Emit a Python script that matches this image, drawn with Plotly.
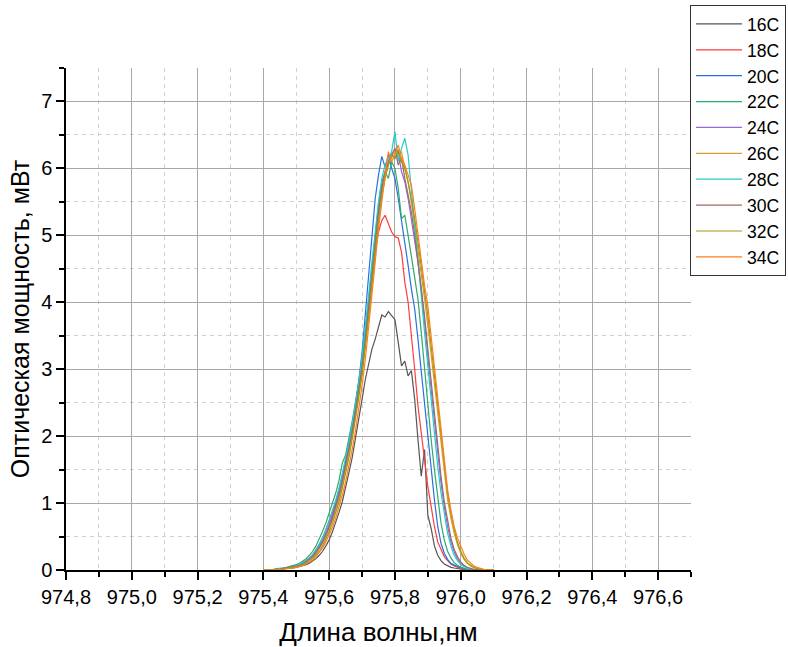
import plotly.graph_objects as go

# Wavelength sampling grid (nm): 975.40 ... 976.10, step 0.01
WL_START = 975.40
WL_STEP = 0.01
N_POINTS = 71
wavelength = [round(WL_START + WL_STEP * i, 2) for i in range(N_POINTS)]

temperatures = ["16C", "18C", "20C", "22C", "24C", "26C", "28C", "30C", "32C", "34C"]

# Optical power, mW (one list per temperature)
p16 = [0, 0, 0, 0.01, 0.01, 0.01, 0.02, 0.02, 0.03, 0.03,
       0.04, 0.05, 0.06, 0.08, 0.10, 0.13, 0.17, 0.22, 0.28, 0.36,
       0.45, 0.57, 0.70, 0.86, 1.02, 1.22, 1.45, 1.68, 1.95, 2.25,
       2.55, 2.85, 3.10, 3.30, 3.45, 3.64, 3.81, 3.78, 3.86, 3.80,
       3.74, 3.40, 3.05, 3.12, 2.90, 2.98, 2.55, 1.95, 1.40, 1.80,
       0.82, 0.62, 0.36, 0.22, 0.14, 0.09, 0.06, 0.04, 0.03, 0.02,
       0.01, 0.01, 0, 0, 0, 0, 0, 0, 0, 0,
       0]
p18 = [0, 0, 0, 0.01, 0.01, 0.01, 0.02, 0.03, 0.04, 0.05,
       0.06, 0.08, 0.11, 0.14, 0.18, 0.23, 0.30, 0.38, 0.48, 0.60,
       0.72, 0.86, 1.02, 1.20, 1.40, 1.62, 1.86, 2.12, 2.40, 2.72,
       3.05, 3.45, 3.90, 4.35, 4.75, 5.05, 5.22, 5.30, 5.18, 5.05,
       4.98, 4.96, 4.75, 4.30, 4.00, 3.55, 3.00, 2.45, 2.05, 1.65,
       1.25, 0.95, 0.65, 0.42, 0.30, 0.20, 0.14, 0.09, 0.06, 0.04,
       0.02, 0.01, 0, 0, 0, 0, 0, 0, 0, 0,
       0]
p20 = [0, 0, 0, 0.01, 0.01, 0.02, 0.02, 0.03, 0.04, 0.05,
       0.07, 0.09, 0.11, 0.14, 0.17, 0.21, 0.27, 0.34, 0.42, 0.52,
       0.64, 0.80, 0.98, 1.16, 1.38, 1.60, 1.86, 2.15, 2.48, 2.82,
       3.25, 3.80, 4.35, 5.00, 5.55, 5.90, 6.18, 6.02, 6.20, 6.00,
       5.85, 5.55, 5.22, 4.95, 4.55, 4.20, 3.90, 3.45, 2.95, 2.50,
       2.00, 1.55, 1.05, 0.65, 0.40, 0.25, 0.16, 0.10, 0.07, 0.05,
       0.04, 0.02, 0.01, 0, 0, 0, 0, 0, 0, 0,
       0]
p22 = [0, 0, 0.01, 0.01, 0.02, 0.02, 0.03, 0.04, 0.05, 0.06,
       0.08, 0.10, 0.13, 0.17, 0.22, 0.28, 0.36, 0.46, 0.58, 0.70,
       0.84, 0.98, 1.15, 1.34, 1.60, 1.72, 1.96, 2.22, 2.50, 2.80,
       3.15, 3.55, 4.05, 4.55, 5.05, 5.45, 5.78, 5.95, 5.85, 6.10,
       6.00, 5.70, 5.25, 5.30, 5.00, 4.70, 4.38, 4.05, 3.55, 3.00,
       2.45, 1.95, 1.50, 1.05, 0.70, 0.45, 0.28, 0.18, 0.11, 0.07,
       0.04, 0.02, 0.01, 0, 0, 0, 0, 0, 0, 0,
       0]
p24 = [0, 0, 0, 0.01, 0.01, 0.02, 0.02, 0.03, 0.04, 0.05,
       0.06, 0.08, 0.10, 0.13, 0.17, 0.22, 0.28, 0.36, 0.45, 0.56,
       0.68, 0.82, 0.98, 1.16, 1.36, 1.58, 1.82, 2.08, 2.36, 2.66,
       3.00, 3.40, 3.85, 4.35, 4.85, 5.30, 5.65, 5.90, 6.05, 6.22,
       6.15, 6.25, 5.95, 5.80, 5.55, 5.25, 4.95, 4.60, 4.20, 3.75,
       3.20, 2.70, 2.20, 1.70, 1.30, 0.95, 0.65, 0.42, 0.27, 0.17,
       0.10, 0.06, 0.03, 0.01, 0, 0, 0, 0, 0, 0,
       0]
p26 = [0, 0, 0, 0, 0.01, 0.01, 0.02, 0.02, 0.03, 0.04,
       0.05, 0.07, 0.09, 0.12, 0.15, 0.19, 0.25, 0.32, 0.40, 0.50,
       0.62, 0.75, 0.90, 1.08, 1.28, 1.50, 1.74, 2.00, 2.30, 2.62,
       2.95, 3.35, 3.80, 4.30, 4.80, 5.25, 5.60, 5.85, 6.10, 6.15,
       6.30, 6.20, 6.25, 6.00, 5.80, 5.50, 5.15, 4.80, 4.40, 4.05,
       3.65, 3.20, 2.75, 2.35, 1.85, 1.40, 1.05, 0.78, 0.55, 0.38,
       0.25, 0.16, 0.10, 0.06, 0.03, 0.02, 0.01, 0, 0, 0,
       0]
p28 = [0, 0, 0, 0.01, 0.01, 0.02, 0.02, 0.03, 0.04, 0.05,
       0.07, 0.09, 0.11, 0.14, 0.18, 0.23, 0.30, 0.38, 0.48, 0.60,
       0.74, 0.88, 1.04, 1.22, 1.44, 1.66, 1.90, 2.18, 2.48, 2.80,
       3.18, 3.60, 4.10, 4.60, 5.10, 5.50, 5.85, 6.05, 6.15, 6.25,
       6.55, 6.10, 6.30, 6.45, 6.20, 5.70, 5.20, 4.65, 4.10, 3.55,
       3.05, 2.50, 2.00, 1.55, 1.15, 0.82, 0.55, 0.36, 0.22, 0.14,
       0.08, 0.05, 0.03, 0.01, 0, 0, 0, 0, 0, 0,
       0]
p30 = [0, 0, 0, 0.01, 0.01, 0.01, 0.02, 0.03, 0.03, 0.04,
       0.06, 0.07, 0.09, 0.12, 0.16, 0.20, 0.26, 0.33, 0.42, 0.52,
       0.64, 0.78, 0.94, 1.12, 1.32, 1.55, 1.80, 2.06, 2.36, 2.68,
       3.02, 3.42, 3.88, 4.38, 4.90, 5.35, 5.70, 5.95, 6.10, 6.20,
       6.30, 6.05, 6.15, 5.85, 5.60, 5.35, 5.00, 4.62, 4.22, 3.80,
       3.30, 2.80, 2.30, 1.82, 1.40, 1.02, 0.72, 0.48, 0.31, 0.20,
       0.12, 0.07, 0.04, 0.02, 0.01, 0, 0, 0, 0, 0,
       0]
p32 = [0, 0, 0, 0, 0.01, 0.01, 0.01, 0.02, 0.03, 0.03,
       0.04, 0.06, 0.08, 0.10, 0.13, 0.17, 0.22, 0.28, 0.36, 0.46,
       0.57, 0.70, 0.85, 1.02, 1.22, 1.44, 1.68, 1.95, 2.25, 2.58,
       2.92, 3.32, 3.78, 4.28, 4.78, 5.22, 5.58, 5.85, 6.05, 6.20,
       6.15, 6.28, 6.10, 6.00, 5.80, 5.55, 5.25, 4.90, 4.55, 4.15,
       3.80, 3.35, 2.90, 2.50, 2.05, 1.55, 1.15, 0.85, 0.60, 0.42,
       0.28, 0.18, 0.11, 0.07, 0.04, 0.02, 0.01, 0, 0, 0,
       0]
p34 = [0, 0, 0, 0, 0.01, 0.01, 0.01, 0.02, 0.02, 0.03,
       0.04, 0.05, 0.07, 0.09, 0.12, 0.15, 0.20, 0.26, 0.33, 0.42,
       0.52, 0.64, 0.78, 0.94, 1.12, 1.32, 1.55, 1.80, 2.08, 2.40,
       2.75, 3.15, 3.60, 4.10, 4.60, 5.10, 5.55, 5.90, 6.25, 6.10,
       6.20, 6.35, 6.15, 6.05, 5.90, 5.75, 5.40, 5.00, 4.60, 4.25,
       3.95, 3.50, 3.00, 2.55, 2.20, 1.65, 1.20, 0.90, 0.65, 0.48,
       0.35, 0.24, 0.15, 0.10, 0.06, 0.04, 0.02, 0.01, 0, 0,
       0]

power = [p16, p18, p20, p22, p24, p26, p28, p30, p32, p34]
colors = ["#555555", "#FF3B3B", "#2A6FE0", "#2EAA6A", "#9966DD",
          "#D4A030", "#22CCCC", "#9A6A6A", "#9C9C10", "#FF7F1E"]

FONT = "Liberation Sans, Arial, sans-serif"

fig = go.Figure()
for name, ys, col in zip(temperatures, power, colors):
    fig.add_trace(go.Scatter(
        x=wavelength, y=ys, mode="lines", name=name, legendgroup=name,
        line=dict(color=col, width=1.2),
    ))

axis_common = dict(
    showline=True, linecolor="black", linewidth=1.5,
    ticks="outside", ticklen=8, tickwidth=1.5, tickcolor="black",
    showgrid=True, gridcolor="#a8a8a8", gridwidth=1,
    zeroline=False, mirror=False,
    tickfont=dict(family=FONT, size=20, color="black"),
)

fig.update_xaxes(
    range=[974.8, 976.7], tick0=974.8, dtick=0.2, tickformat=".1f",
    minor=dict(dtick=0.1, ticks="outside", ticklen=5, tickwidth=1.5,
               tickcolor="black", showgrid=True, gridcolor="#d0d0d0",
               griddash="4px,4px", gridwidth=1),
    title=dict(text="Длина волны,нм", font=dict(family=FONT, size=26, color="black"),
               standoff=18),
    **axis_common,
)
fig.update_yaxes(
    range=[0, 7.5], tick0=0, dtick=1,
    minor=dict(dtick=0.5, ticks="outside", ticklen=5, tickwidth=1.5,
               tickcolor="black", showgrid=True, gridcolor="#d0d0d0",
               griddash="4px,4px", gridwidth=1),
    title=dict(text="Оптическая мощность, мВт", font=dict(family=FONT, size=25, color="black"),
               standoff=4),
    **axis_common,
)

fig.update_layout(
    width=788, height=647,
    margin=dict(l=66, r=97, t=68, b=77, autoexpand=False),
    paper_bgcolor="white", plot_bgcolor="white",
    separators=", ",
    font=dict(family=FONT, color="black"),
    showlegend=True,
    legend=dict(
        xref="container", yref="container",
        x=690 / 788, y=1 - 5 / 647, xanchor="left", yanchor="top",
        bgcolor="white", bordercolor="#333333", borderwidth=1,
        font=dict(family=FONT, size=17.6, color="black"),
        tracegroupgap=0, itemwidth=46,
    ),
    hovermode=False,
)

fig.write_html("out.html")
